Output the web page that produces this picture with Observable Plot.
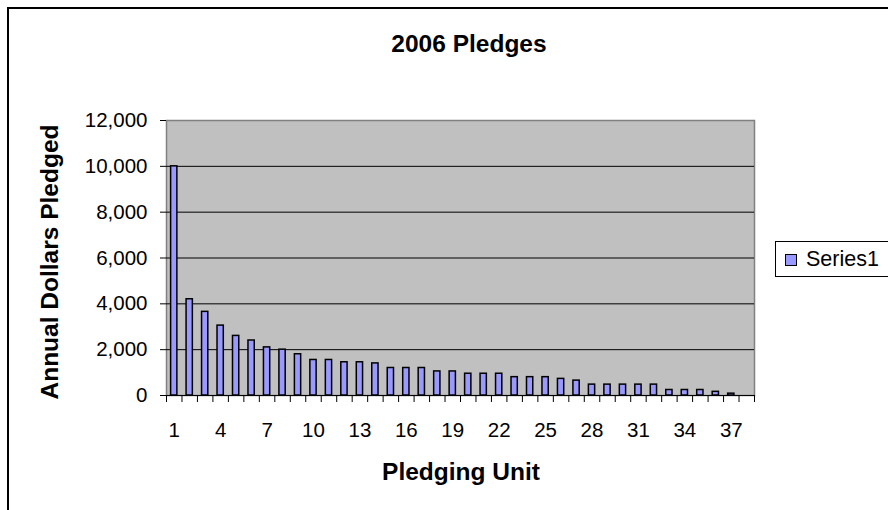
<!DOCTYPE html>
<html>
<head>
<meta charset="utf-8">
<script src="https://cdn.jsdelivr.net/npm/d3@7"></script>
<script src="https://cdn.jsdelivr.net/npm/@observablehq/plot@0.6"></script>
<style>
  html, body { margin: 0; padding: 0; background: #fff; }
  #wrap { position: relative; width: 888px; height: 510px; overflow: hidden; font-family: "Liberation Sans", Arial, sans-serif; }
  #chart { position: absolute; left: 0; top: 0; }
  .lbl { position: absolute; line-height: 1; white-space: nowrap; color: #000; }
  #border { position: absolute; left: 7px; top: 7px; width: 900px; height: 520px; border: 2px solid #000; box-sizing: border-box; }
  #title { left: 469px; top: 44px; transform: translate(-50%, -50%); font-size: 24.5px; font-weight: bold; }
  #xtitle { left: 461px; top: 472px; transform: translate(-50%, -50%); font-size: 24.5px; font-weight: bold; }
  #ytitle { left: 50px; top: 262px; transform: translate(-50%, -50%) rotate(-90deg); font-size: 24.5px; font-weight: bold; }
  #legend { position: absolute; left: 775px; top: 241px; width: 130px; height: 36px; border: 1px solid #000; box-sizing: border-box; background: #fff; }
  #legend .sw { position: absolute; left: 9px; top: 12px; width: 10px; height: 10px; background: #9999ff; border: 1px solid #000; }
  #legend .tx { left: 30px; top: 18px; transform: translateY(-50%); font-size: 21.5px; }
</style>
</head>
<body>
<div id="wrap">
  <div id="chart"></div>
  <div id="border"></div>
  <div id="title" class="lbl">2006 Pledges</div>
  <div id="xtitle" class="lbl">Pledging Unit</div>
  <div id="ytitle" class="lbl">Annual Dollars Pledged</div>
  <div id="legend"><div class="sw"></div><div class="lbl tx">Series1</div></div>
</div>
<script>
const units = d3.range(1, 38);
const pledges = [10000, 4200, 3650, 3050, 2600, 2400, 2100, 2000, 1800, 1550, 1550, 1450, 1450, 1400, 1200, 1200, 1200, 1050, 1050, 950, 950, 950, 800, 800, 800, 725, 650, 475, 475, 475, 475, 475, 240, 240, 240, 160, 80];
const yTicks = [0, 2000, 4000, 6000, 8000, 10000, 12000];
const xLabelTicks = [1, 4, 7, 10, 13, 16, 19, 22, 25, 28, 31, 34, 37];
const seriesName = "Series1";

const data = units.map((u, i) => ({unit: u, value: pledges[i]}));
// Excel leaves one empty category slot after the last unit
const slotCount = units.length + 1;
const boundaries = d3.range(0, slotCount + 1).map(b => b + 0.5);

const chart = Plot.plot({
  width: 888,
  height: 510,
  marginLeft: 166,
  marginRight: 134,
  marginTop: 120,
  marginBottom: 115,
  style: {fontFamily: "'Liberation Sans', Arial, sans-serif", fontSize: "20.5px", background: "transparent", color: "#000"},
  x: {type: "linear", domain: [0.5, slotCount + 0.5]},
  y: {domain: [0, 12000]},
  marks: [
    Plot.frame({fill: "#c0c0c0", stroke: "#808080", strokeWidth: 1.5}),
    Plot.gridY(yTicks.filter(t => t > 0 && t < 12000), {stroke: "#000", strokeOpacity: 1, strokeWidth: 1}),
    Plot.rectY(data, {x1: d => d.unit - 0.5, x2: d => d.unit + 0.5, y: "value", insetLeft: 4.6, insetRight: 4.6, fill: "#9999ff", stroke: "#000", strokeWidth: 1.5}),
    Plot.ruleY([0], {stroke: "#000", strokeWidth: 1}),
    Plot.axisY({ticks: yTicks, tickSize: 6, tickPadding: 13, tickFormat: d3.format(","), fontSize: 20.5, label: null}),
    Plot.axisX({ticks: boundaries, tickSize: 7, tickFormat: () => "", label: null}),
    Plot.axisX({ticks: xLabelTicks, tickSize: 0, tickPadding: 27, tickFormat: d => String(d), fontSize: 20.5, label: null})
  ]
});
document.getElementById("chart").appendChild(chart);
document.querySelector("#legend .tx").textContent = seriesName;
</script>
</body>
</html>
